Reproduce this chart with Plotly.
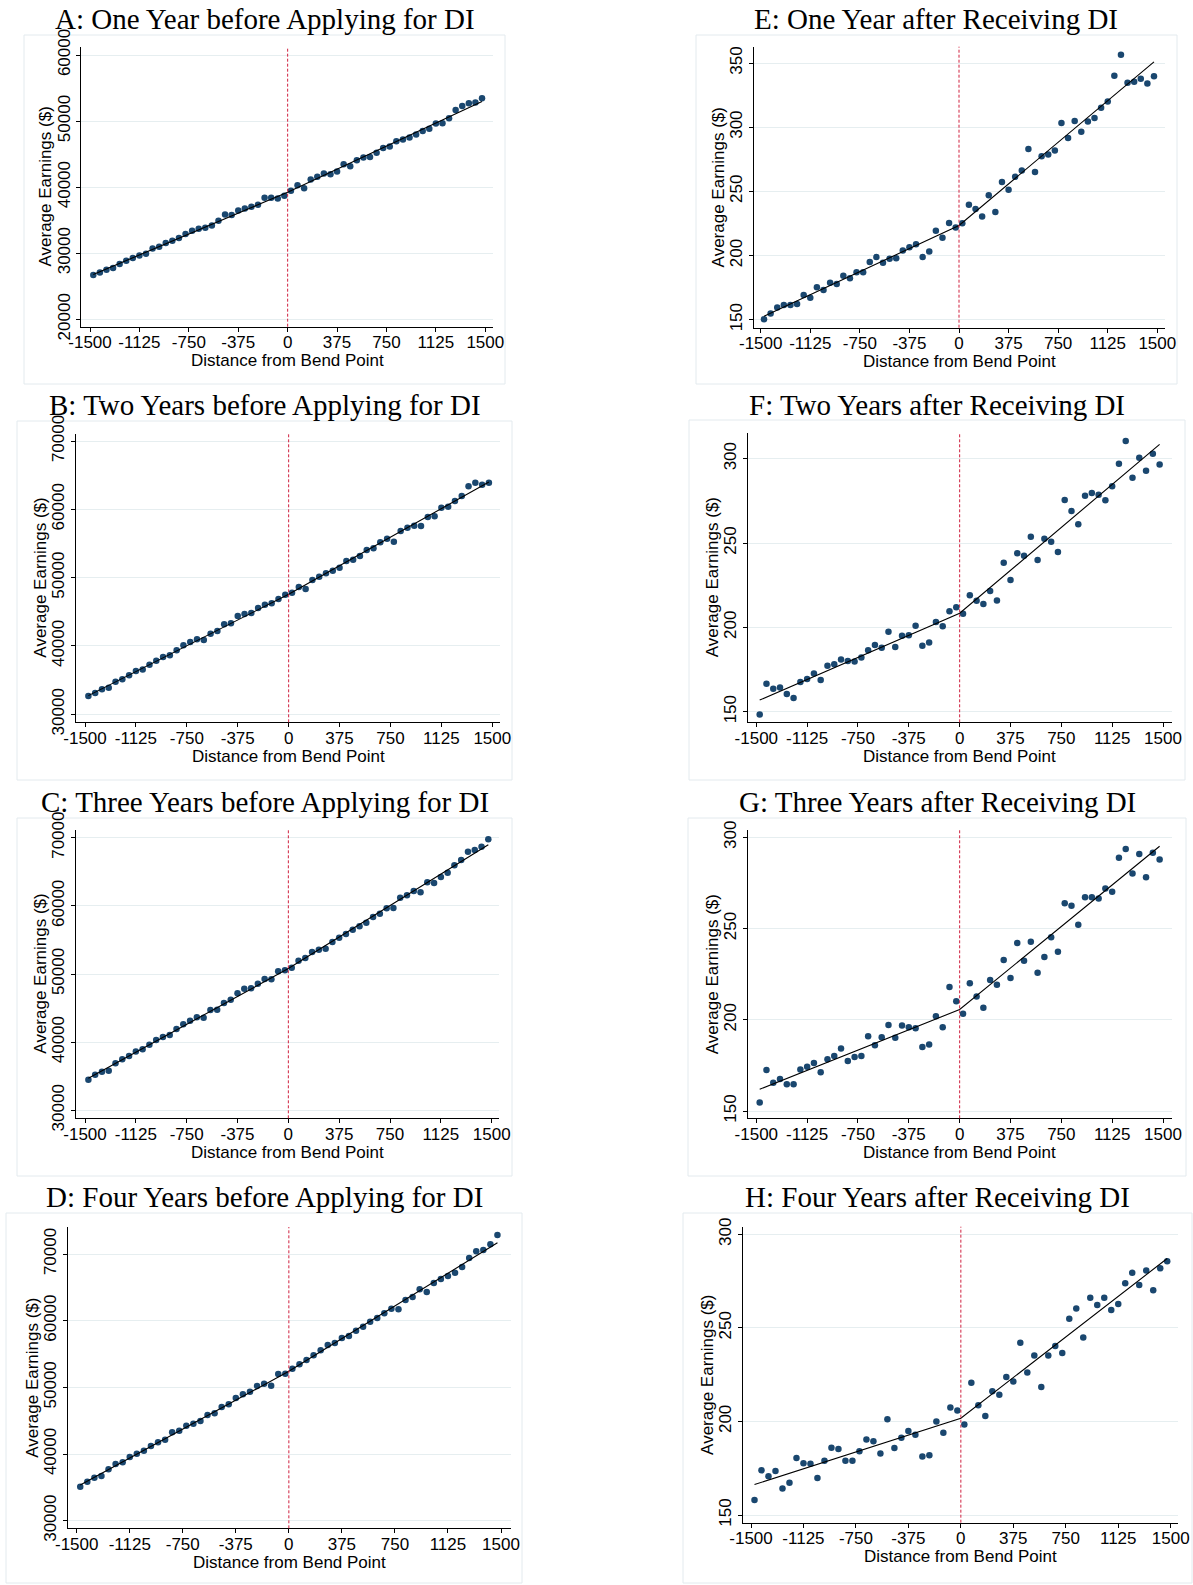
import numpy as np
import plotly.graph_objects as go

# Bin centres: distance from the bend point (50-unit bins)
distance = [-1475, -1425, -1375, -1325, -1275, -1225, -1175, -1125, -1075, -1025,
            -975, -925, -875, -825, -775, -725, -675, -625, -575, -525,
            -475, -425, -375, -325, -275, -225, -175, -125, -75, -25,
            25, 75, 125, 175, 225, 275, 325, 375, 425, 475,
            525, 575, 625, 675, 725, 775, 825, 875, 925, 975,
            1025, 1075, 1125, 1175, 1225, 1275, 1325, 1375, 1425, 1475]

x_ticks = [-1500, -1125, -750, -375, 0, 375, 750, 1125, 1500]

# Average earnings by bin, before applying (annual $)
earn_a = [26700, 27100, 27500, 27760, 28360, 28870, 29270, 29670, 29920, 30730,
          30980, 31540, 31890, 32290, 32900, 33400, 33700, 33850, 34200, 34910,
          35870, 35770, 36470, 36780, 37030, 37330, 38390, 38390, 38290, 38690,
          39450, 40300, 39850, 41160, 41560, 42070, 41960, 42370, 43480, 43170,
          44080, 44480, 44580, 45190, 45940, 46150, 46950, 47200, 47510, 47960,
          48510, 48820, 49620, 49670, 50430, 51690, 52290, 52700, 52800, 53450]
earn_b = [32680, 33120, 33660, 33900, 34780, 35120, 35710, 36340, 36540, 37270,
          37850, 38390, 38630, 39370, 40100, 40590, 40980, 40880, 41800, 42200,
          43170, 43320, 44390, 44680, 44830, 45560, 46050, 46240, 46880, 47510,
          47800, 48630, 48340, 49660, 50150, 50630, 51020, 51460, 52440, 52630,
          53170, 54050, 54290, 55170, 55710, 55270, 56830, 57320, 57610, 57560,
          58880, 58980, 60240, 60390, 61220, 61950, 63370, 63900, 63610, 63900]
earn_c = [34500, 35230, 35670, 35820, 36890, 37480, 37970, 38610, 38950, 39630,
          40320, 40760, 41050, 41930, 42620, 43150, 43640, 43590, 44720, 44770,
          45750, 46230, 47160, 47850, 47900, 48580, 49270, 49220, 50390, 50540,
          50930, 51960, 52350, 53230, 53570, 53720, 54690, 55330, 55870, 56500,
          56990, 57530, 58360, 58850, 59630, 59680, 61200, 61540, 62180, 61980,
          63450, 63350, 64230, 64870, 65940, 66720, 67950, 68190, 68680, 69760]
earn_d = [35100, 35850, 36450, 36700, 37700, 38500, 38750, 39550, 40050, 40500,
          41200, 41750, 42150, 43250, 43500, 44250, 44550, 44950, 45850, 46100,
          47050, 47450, 48400, 48950, 49350, 50200, 50550, 50250, 52000, 52050,
          52800, 53450, 54100, 54800, 55550, 56350, 56650, 57400, 57700, 58500,
          59100, 59850, 60400, 61100, 61800, 61700, 63100, 63550, 64700, 64300,
          65650, 66250, 66700, 67200, 68050, 69400, 70400, 70600, 71450, 72850]

# Average earnings by bin, after receiving (monthly $)
earn_e = [150.3, 154.9, 159.6, 161.4, 161.4, 162.2, 169.2, 167.1, 175.2, 173.1,
          178.8, 177.8, 184.3, 182.2, 186.9, 186.9, 194.9, 198.8, 194.4, 197.5,
          197.8, 204.0, 206.4, 208.7, 198.8, 203.2, 219.3, 213.9, 225.3, 221.9,
          225.1, 239.6, 236.2, 230.5, 246.9, 233.9, 257.3, 251.3, 261.4, 266.3,
          283.0, 265.0, 277.3, 278.8, 281.9, 303.2, 291.5, 304.8, 296.5, 304.5,
          307.1, 315.2, 320.1, 340.1, 356.5, 334.6, 335.4, 337.7, 334.1, 339.6]
earn_f = [148.4, 166.6, 163.6, 164.4, 160.5, 158.1, 167.6, 169.4, 172.7, 168.8,
          177.3, 178.1, 181.0, 180.0, 179.8, 182.2, 186.4, 189.5, 187.9, 197.4,
          188.3, 195.1, 195.4, 201.0, 189.1, 191.1, 203.2, 200.6, 209.5, 212.0,
          208.1, 219.0, 215.8, 213.8, 221.5, 216.0, 238.3, 228.1, 243.9, 242.5,
          253.7, 239.9, 252.6, 250.8, 244.7, 275.5, 269.0, 261.2, 278.0, 279.6,
          278.6, 275.3, 283.6, 297.0, 310.5, 288.7, 300.6, 292.9, 302.9, 296.6]
earn_g = [154.6, 172.5, 165.5, 167.5, 164.6, 164.6, 172.8, 174.3, 176.3, 171.2,
          178.3, 180.1, 184.2, 177.4, 179.6, 180.1, 190.9, 186.0, 190.4, 197.1,
          190.2, 196.9, 195.9, 195.3, 185.1, 186.5, 201.9, 195.9, 218.0, 210.1,
          203.3, 220.0, 212.8, 206.6, 221.8, 219.2, 232.8, 222.9, 242.1, 232.4,
          242.8, 225.8, 234.4, 245.2, 237.3, 263.8, 262.5, 252.1, 267.1, 267.1,
          266.4, 272.0, 270.2, 288.8, 293.6, 280.1, 290.8, 278.1, 291.6, 287.9]
earn_h = [158.0, 173.9, 170.7, 173.5, 164.1, 167.3, 180.5, 177.6, 177.4, 169.8,
          179.0, 186.0, 185.3, 179.0, 179.0, 184.0, 190.3, 189.4, 182.8, 201.1,
          185.8, 191.3, 194.9, 192.9, 181.2, 181.9, 199.9, 194.0, 207.5, 205.9,
          198.3, 220.7, 208.6, 202.9, 216.1, 214.3, 223.7, 221.4, 242.1, 226.2,
          235.3, 218.4, 235.3, 240.3, 236.6, 254.9, 260.4, 244.8, 266.1, 262.2,
          266.1, 259.6, 262.8, 273.8, 279.5, 272.9, 280.7, 270.1, 281.8, 285.6]

titles = ["A: One Year before Applying for DI",
          "B: Two Years before Applying for DI",
          "C: Three Years before Applying for DI",
          "D: Four Years before Applying for DI",
          "E: One Year after Receiving DI",
          "F: Two Years after Receiving DI",
          "G: Three Years after Receiving DI",
          "H: Four Years after Receiving DI"]

y_ticks_before_a = [20000, 30000, 40000, 50000, 60000]
y_ticks_before = [30000, 40000, 50000, 60000, 70000]
y_ticks_after_e = [150, 200, 250, 300, 350]
y_ticks_after = [150, 200, 250, 300]

series = [earn_a, earn_b, earn_c, earn_d, earn_e, earn_f, earn_g, earn_h]
y_ticks = [y_ticks_before_a, y_ticks_before, y_ticks_before, y_ticks_before,
           y_ticks_after_e, y_ticks_after, y_ticks_after, y_ticks_after]

# Page geometry (pixels): plot region left/right/top/bottom, pixel of x=-1500/1500,
# pixel of lowest/highest y tick, outer graph-region box, title baseline
W, H = 1193, 1585
geom = [
    dict(l=81.3, r=492.7, t=46.7, b=326.7, xa=90.0, xb=485.3, ya=319.3, yb=55.0, box=(24, 35, 505, 384), tb=28.5),
    dict(l=76.0, r=500.0, t=434.0, b=722.3, xa=85.0, xb=492.3, ya=714.3, yb=441.0, box=(17, 421, 512, 780), tb=414.7),
    dict(l=76.0, r=499.3, t=830.0, b=1118.3, xa=85.0, xb=491.7, ya=1110.3, yb=837.7, box=(17, 818, 512, 1176), tb=811.7),
    dict(l=67.7, r=510.7, t=1227.0, b=1528.3, xa=76.7, xb=501.0, ya=1520.7, yb=1254.0, box=(6, 1213, 522, 1583), tb=1207.0),
    dict(l=753.7, r=1165.0, t=46.7, b=327.7, xa=760.7, xb=1157.3, ya=319.7, yb=63.0, box=(696, 35, 1177, 384), tb=28.5),
    dict(l=748.0, r=1171.7, t=433.3, b=722.3, xa=756.3, xb=1163.0, ya=711.7, yb=458.7, box=(689, 420, 1185, 780), tb=414.7),
    dict(l=747.7, r=1171.7, t=830.0, b=1118.3, xa=756.3, xb=1163.0, ya=1111.0, yb=837.3, box=(688, 818, 1186, 1176), tb=811.7),
    dict(l=742.7, r=1178.3, t=1226.7, b=1522.7, xa=751.0, xb=1170.7, ya=1515.0, yb=1234.3, box=(683, 1213, 1192, 1583), tb=1207.0),
]

DOT = "#1a476f"
REF = "#d0213f"
GRID = "#e6eef0"
BOXC = "#e3eaee"
SANS = "Liberation Sans, Arial, sans-serif"
SERIF = "Liberation Serif, Times New Roman, serif"

fig = go.Figure()
layout = dict(width=W, height=H, margin=dict(l=0, r=0, t=0, b=0, pad=0, autoexpand=False),
              autosize=False, paper_bgcolor="white", plot_bgcolor="white", showlegend=False)
shapes, annotations = [], []

x = np.array(distance, dtype=float)
for i, (yv, g) in enumerate(zip(series, geom)):
    n = "" if i == 0 else str(i + 1)
    xa_name, ya_name = "x" + n, "y" + n
    y = np.array(yv, dtype=float)

    # kinked linear fit with a slope change at the bend point
    X = np.column_stack([np.ones_like(x), x, np.maximum(x, 0)])
    coef, *_ = np.linalg.lstsq(X, y, rcond=None)
    fx = np.array([x[0], 0.0, x[-1]])
    fy = coef[0] + coef[1] * fx + coef[2] * np.maximum(fx, 0)

    fig.add_trace(go.Scatter(x=x, y=y, mode="markers", xaxis=xa_name, yaxis=ya_name,
                             marker=dict(color=DOT, size=6.5, line=dict(width=0))))
    fig.add_trace(go.Scatter(x=fx, y=fy, mode="lines", xaxis=xa_name, yaxis=ya_name,
                             line=dict(color="black", width=1.1)))

    # axis ranges from the pixel geometry
    xs = (g["xb"] - g["xa"]) / 3000.0
    x0 = -1500 - (g["xa"] - g["l"]) / xs
    x1 = 1500 + (g["r"] - g["xb"]) / xs
    lo, hi = y_ticks[i][0], y_ticks[i][-1]
    ys = (g["ya"] - g["yb"]) / (hi - lo)
    y0 = lo - (g["b"] - g["ya"]) / ys
    y1 = hi + (g["yb"] - g["t"]) / ys

    tickfont = dict(family=SANS, size=17, color="black")
    layout["xaxis" + n] = dict(
        domain=[g["l"] / W, g["r"] / W], range=[x0, x1], anchor=ya_name,
        tickvals=x_ticks, ticktext=[str(v) for v in x_ticks], tickfont=tickfont,
        ticks="outside", ticklen=4, tickcolor="black", tickwidth=1,
        showline=True, linecolor="black", linewidth=1, showgrid=False,
        zeroline=False, fixedrange=True, automargin=False, ticklabelstandoff=-4)
    layout["yaxis" + n] = dict(
        domain=[1 - g["b"] / H, 1 - g["t"] / H], range=[y0, y1], anchor=xa_name,
        tickvals=y_ticks[i], ticktext=[str(v) for v in y_ticks[i]], tickfont=tickfont,
        tickangle=-90, ticks="outside", ticklen=4, tickcolor="black", tickwidth=1,
        showline=True, linecolor="black", linewidth=1, showgrid=True,
        gridcolor=GRID, gridwidth=1, zeroline=False, fixedrange=True,
        automargin=False)

    # dotted reference line at the bend point
    shapes.append(dict(type="line", xref=xa_name, yref=ya_name + " domain",
                       x0=0, x1=0, y0=0, y1=1, layer="above",
                       line=dict(color=REF, width=1, dash="3px,2px")))

    # light outline of each graph region
    bx0, by0, bx1, by1 = g["box"]
    shapes.append(dict(type="rect", xref="paper", yref="paper",
                       x0=bx0 / W, x1=bx1 / W, y0=1 - by1 / H, y1=1 - by0 / H,
                       line=dict(color=BOXC, width=1), fillcolor="rgba(0,0,0,0)",
                       layer="below"))

    # panel title
    annotations.append(dict(text=titles[i], xref="paper", yref="paper",
                            x=(bx0 + bx1) / 2 / W, y=1 - (g["tb"] - 9.7) / H,
                            xanchor="center", yanchor="middle", showarrow=False,
                            font=dict(family=SERIF, size=29, color="black")))
    # axis titles
    cx = (g["l"] + g["r"]) / 2
    cy = (g["t"] + g["b"]) / 2
    annotations.append(dict(text="Distance from Bend Point", xref="paper", yref="paper",
                            x=cx / W, y=1 - (g["b"] + 34) / H, xanchor="center",
                            yanchor="middle", showarrow=False,
                            font=dict(family=SANS, size=17, color="black")))
    annotations.append(dict(text="Average Earnings ($)", xref="paper", yref="paper",
                            x=(g["l"] - 35.5) / W, y=1 - cy / H, xanchor="center",
                            yanchor="middle", textangle=-90, showarrow=False,
                            font=dict(family=SANS, size=17, color="black")))

layout["shapes"] = shapes
layout["annotations"] = annotations
fig.update_layout(**layout)
fig.write_html("out.html")
